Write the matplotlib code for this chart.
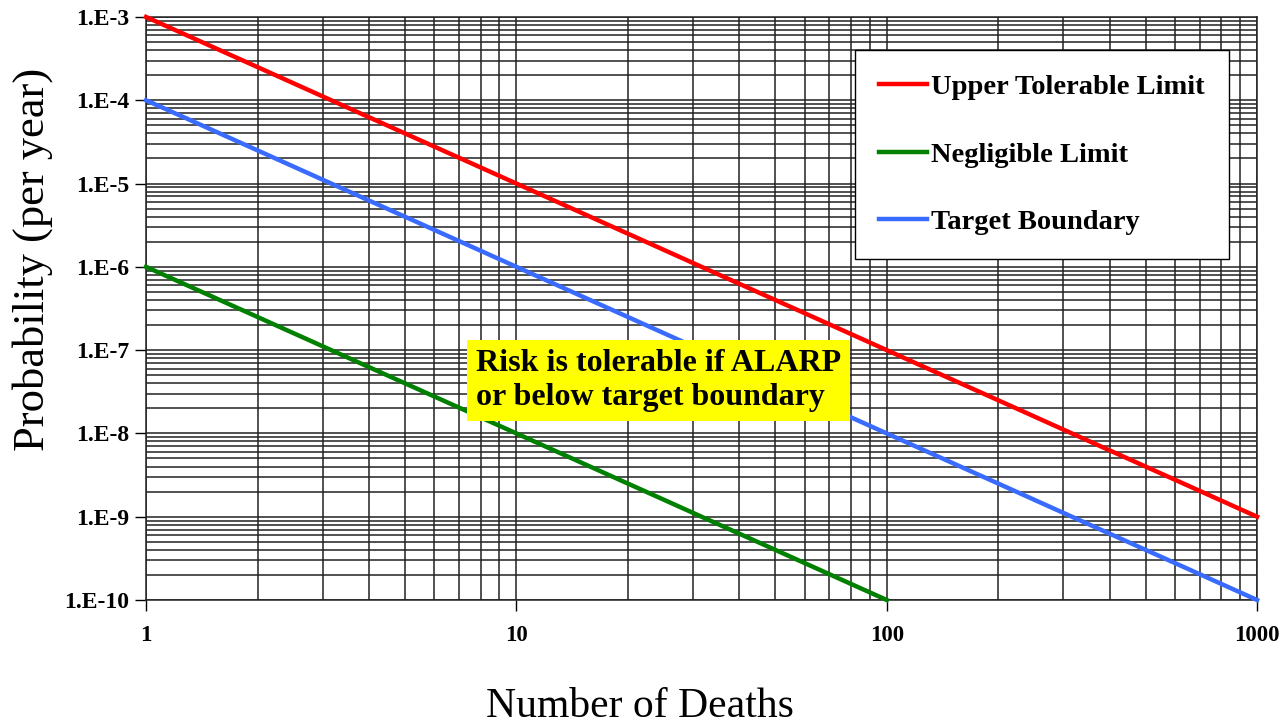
import matplotlib
matplotlib.use("Agg")
import matplotlib.pyplot as plt
from matplotlib.ticker import FixedLocator, LogLocator, NullFormatter

# Data
deaths_full = [1, 10, 100, 1000]
upper_tolerable = [1e-3, 1e-5, 1e-7, 1e-9]
target_boundary = [1e-4, 1e-6, 1e-8, 1e-10]
deaths_negligible = [1, 10, 100]
negligible = [1e-6, 1e-8, 1e-10]

x_ticks = [1, 10, 100, 1000]
x_tick_labels = ["1", "10", "100", "1000"]
y_ticks = [1e-10, 1e-9, 1e-8, 1e-7, 1e-6, 1e-5, 1e-4, 1e-3]
y_tick_labels = ["1.E-10", "1.E-9", "1.E-8", "1.E-7", "1.E-6", "1.E-5", "1.E-4", "1.E-3"]

serif = ["Liberation Serif", "DejaVu Serif"]
plt.rcParams['font.family'] = serif

fig = plt.figure(figsize=(12.88, 7.25), dpi=100)
ax = fig.add_axes([0.1134, 0.1724, 0.8626, 0.8042])

ax.set_xscale('log')
ax.set_yscale('log')
ax.set_xlim(1, 1000)
ax.set_ylim(1e-10, 1e-3)

ax.xaxis.set_major_locator(FixedLocator(x_ticks))
ax.yaxis.set_major_locator(FixedLocator(y_ticks))
ax.xaxis.set_minor_locator(LogLocator(base=10, subs=range(2, 10), numticks=20))
ax.yaxis.set_minor_locator(LogLocator(base=10, subs=range(2, 10), numticks=20))
ax.xaxis.set_minor_formatter(NullFormatter())
ax.yaxis.set_minor_formatter(NullFormatter())
ax.set_xticklabels(x_tick_labels, fontsize=16.5, fontweight='bold')
ax.set_yticklabels(y_tick_labels, fontsize=17, fontweight='bold')
ax.tick_params(which='major', direction='out', length=8, width=1, color='black')
ax.tick_params(which='minor', length=0)
ax.tick_params(axis='y', which='major', pad=4)
ax.tick_params(axis='x', which='major', pad=10)

ax.grid(True, which='both', color='#222222', linewidth=1.1)
ax.set_axisbelow(True)
for s in ax.spines.values():
    s.set_color('#222222')
    s.set_linewidth(1.1)

ax.plot(deaths_full, upper_tolerable, color='#FF0000', linewidth=3.2, label='Upper Tolerable Limit', clip_on=False, zorder=3)
ax.plot(deaths_negligible, negligible, color='#008000', linewidth=3.2, label='Negligible Limit', clip_on=False, zorder=3)
ax.plot(deaths_full, target_boundary, color='#3A6BFF', linewidth=3.2, label='Target Boundary', clip_on=False, zorder=3)

leg = ax.legend(loc='upper right', bbox_to_anchor=(0.975, 0.943), borderaxespad=0, fancybox=False, shadow=False,
                framealpha=1, edgecolor='black', prop={'family': serif, 'weight': 'bold', 'size': 20.5},
                handlelength=1.7, handletextpad=0.15, labelspacing=1.45, borderpad=0.85)
leg.get_frame().set_linewidth(1.0)

ax.text(0.461, 0.3765, "Risk is tolerable if ALARP\nor below target boundary", transform=ax.transAxes,
        ha='center', va='center', multialignment='left', fontsize=23, fontweight='bold',
        linespacing=1.2,
        bbox=dict(boxstyle='square,pad=0.28', facecolor='#FFFF00', edgecolor='none'), zorder=5)

ax.set_xlabel("Number of Deaths", fontsize=30, labelpad=30)
ax.set_ylabel("Probability (per year)", fontsize=32, labelpad=8)
ax.xaxis.label.set_x(0.4446)
ax.yaxis.label.set_y(0.585)

fig.savefig("out.png", dpi=100)
